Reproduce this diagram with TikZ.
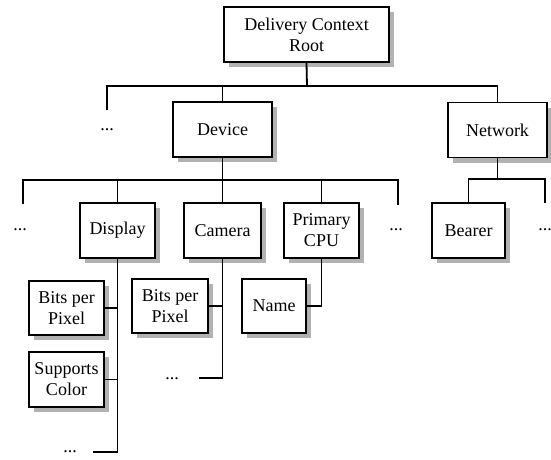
\documentclass[tikz,border=0pt]{standalone}
\usepackage{fontspec}
\setmainfont{Liberation Serif}
\tikzset{
  box/.style={draw, fill=white, line width=1.3pt, align=center, inner sep=0pt,
    minimum height=55pt, font=\fontsize{18}{21}\selectfont},
  boxshadow/.style={fill=black!30, draw=none},
  more/.style={inner sep=0pt, font=\fontsize{18}{21}\selectfont},
  trunk/.style={line width=1.8pt},
  twig/.style={line width=1.2pt},
}
% box with a grey shadow drawn first: name, x, y, width, height, text
\newcommand{\shadowbox}[6]{%
  \fill[boxshadow] (#2-#4/2+5,#3-#5/2+5) rectangle (#2+#4/2+5,#3+#5/2+5);
  \node[box, minimum width=#4pt, minimum height=#5pt] (#1) at (#2,#3) {#6};}
\begin{document}
\begin{tikzpicture}[x=1pt,y=-1pt]
\useasboundingbox (0,0) rectangle (551,460);

% tree nodes
\shadowbox{root}{306.5}{34.5}{165}{55}{Delivery Context\\Root}
\shadowbox{device}{222.5}{129.5}{99}{55}{Device}
\shadowbox{network}{497.5}{130}{99}{55}{Network}
\shadowbox{display}{117.5}{230.5}{75}{55}{Display}
\shadowbox{camera}{222.5}{230.5}{77}{55}{Camera}
\shadowbox{cpu}{321.5}{230.5}{75}{55}{Primary\\CPU}
\shadowbox{bearer}{468.5}{230.5}{73}{55}{Bearer}
\shadowbox{dbpp}{66.5}{308}{75}{54}{Bits per\\Pixel}
\shadowbox{color}{66.5}{379.5}{75}{55}{Supports\\Color}
\shadowbox{cbpp}{170}{306}{76}{54}{Bits per\\Pixel}
\shadowbox{name}{274}{306}{64}{54}{Name}

% elided siblings
\node[more] (m1) at (107,130) {...};
\node[more] (m2) at (20,230) {...};
\node[more] (m3) at (396,230) {...};
\node[more] (m4) at (545,230) {...};
\node[more] (m5) at (70,452) {...};
\node[more] (m6) at (172,379) {...};

% bus junctions and open ends
\coordinate (b1) at (307,86);
\coordinate (b2) at (222.5,180);
\coordinate (b3) at (497.5,179);
\coordinate (e1) at (107,110);
\coordinate (e2) at (23,204);
\coordinate (e3) at (398,205);
\coordinate (e4) at (545,203);
\coordinate (e5) at (93,452);
\coordinate (e6) at (199,378);

% level 1
\draw[trunk] (root.south) -- (b1);
\draw[trunk] (e1) |- (b1) -| (network.north);
\draw[trunk] (device.north) -- (device.north |- b1);

% level 2 under Device
\draw[trunk] (device.south) -- (b2);
\draw[trunk] (e2) |- (b2) -| (e3);
\draw[trunk] (display.north) -- (display.north |- b2);
\draw[trunk] (camera.north) -- (camera.north |- b2);
\draw[trunk] (cpu.north) -- (cpu.north |- b2);

% level 2 under Network
\draw[trunk] (network.south) -- (b3);
\draw[trunk] (bearer.north) |- (b3) -| (e4);

% Display children
\draw[twig] (display.south) -- (display.south |- e5) -- (e5);
\draw[twig] (dbpp.east) -- (dbpp.east -| display.south);
\draw[twig] (color.east) -- (color.east -| display.south);

% Camera children
\draw[twig] (camera.south) -- (camera.south |- e6) -- (e6);
\draw[twig] (cbpp.east) -- (cbpp.east -| camera.south);

% Primary CPU children
\draw[twig] (cpu.south) |- (name.east);
\end{tikzpicture}
\end{document}
